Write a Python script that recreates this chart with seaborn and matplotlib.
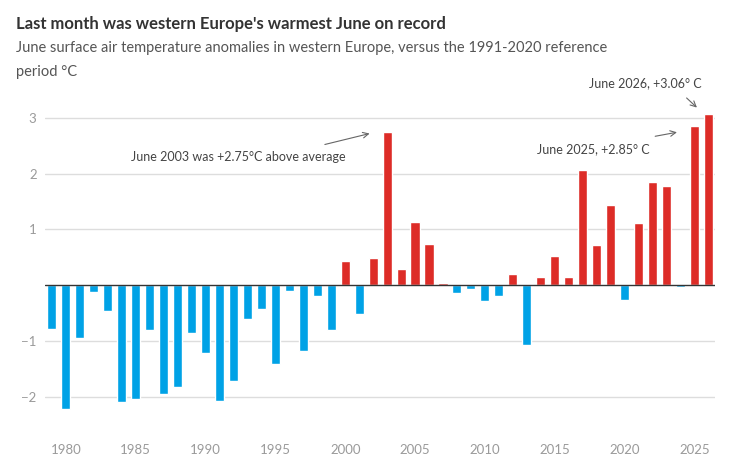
import matplotlib
matplotlib.use("Agg")
import matplotlib.pyplot as plt
import seaborn as sns
import numpy as np
import pandas as pd

years = list(range(1979, 2027))
anomalies = [-0.78, -2.22, -0.95, -0.13, -0.47, -2.09, -2.05, -0.80, -1.95, -1.82,
             -0.86, -1.21, -2.07, -1.72, -0.61, -0.43, -1.42, -0.10, -1.19, -0.19,
             -0.80, 0.44, -0.52, 0.49, 2.75, 0.29, 1.14, 0.74, 0.03, -0.15,
             -0.07, -0.28, -0.20, 0.20, -1.07, 0.14, 0.53, 0.14, 2.06, 0.72,
             1.43, -0.26, 1.11, 1.85, 1.78, -0.03, 2.85, 3.06]
tick_years = [1980, 1985, 1990, 1995, 2000, 2005, 2010, 2015, 2020, 2025]
y_ticks = [-2, -1, 1, 2, 3]

RED = "#dd2c27"
BLUE = "#00a2e6"

df = pd.DataFrame({"year": years, "anomaly": anomalies})
df["sign"] = np.where(df["anomaly"] >= 0, "pos", "neg")

sns.set_style("white")
plt.rcParams["font.family"] = ["Lato", "DejaVu Sans"]

fig = plt.figure(figsize=(7.49, 4.68), dpi=100)
ax = fig.add_axes([0.060, 0.081, 0.895, 0.703])

sns.barplot(data=df, x="year", y="anomaly", hue="sign",
            palette={"pos": RED, "neg": BLUE}, width=0.65,
            legend=False, ax=ax, saturation=1, zorder=2)

ax.set_xlim(-0.5, len(years) - 0.5)
ax.set_ylim(-2.6, 3.3)
ax.set_yticks(y_ticks)
ax.set_yticklabels([f"{t}".replace("-", "\u2212") for t in y_ticks])
ax.set_xticks([years.index(y) for y in tick_years])
ax.set_xticklabels([str(y) for y in tick_years])
ax.tick_params(axis="both", length=0, colors="#9a9a9a", labelsize=9.5)
ax.tick_params(axis="x", pad=10)
ax.tick_params(axis="y", pad=6)
for t in y_ticks:
    ax.axhline(t, color="#dddddd", lw=1, zorder=0)
ax.axhline(0, color="#333333", lw=1, zorder=3)
for s in ax.spines.values():
    s.set_visible(False)
ax.set_xlabel("")
ax.set_ylabel("")

# annotations
ann_color = "#444444"
arrow = dict(arrowstyle="->", color="#666666", lw=0.8)
ax.annotate("", xy=(22.94, 2.73), xytext=(19.35, 2.51), arrowprops=arrow)
ax.text(21.0, 2.30, "June 2003 was +2.75\u00b0C above average", ha="right",
        va="center", fontsize=9, color=ann_color)
ax.annotate("", xy=(44.95, 2.75), xytext=(43.0, 2.66), arrowprops=arrow)
ax.text(42.8, 2.44, "June 2025, +2.85\u00b0 C", ha="right", va="center",
        fontsize=9, color=ann_color)
ax.annotate("", xy=(46.33, 3.15), xytext=(45.3, 3.39), arrowprops=arrow,
            annotation_clip=False)
ax.text(46.5, 3.63, "June 2026, +3.06\u00b0 C", ha="right", va="center",
        fontsize=9, color=ann_color, clip_on=False)

fig.text(0.021, 0.937, "Last month was western Europe's warmest June on record",
         fontsize=12, fontweight="bold", color="#333333")
fig.text(0.021, 0.912,
         "June surface air temperature anomalies in western Europe, versus the 1991-2020 reference",
         fontsize=10.5, color="#555555", va="top")
fig.text(0.021, 0.862, "period \u00b0C", fontsize=10.5, color="#555555", va="top")

fig.savefig("out.png", dpi=100)
